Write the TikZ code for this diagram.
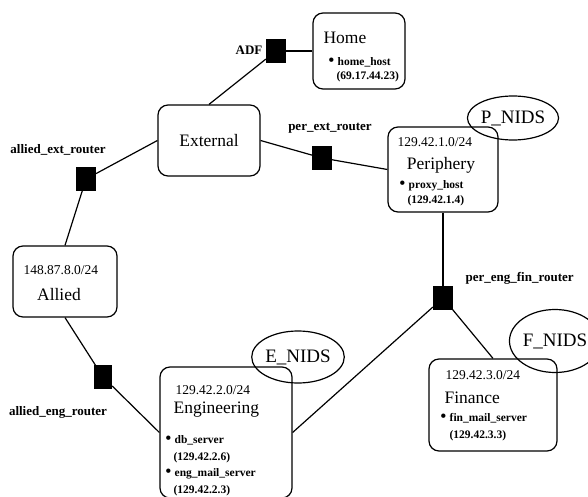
\documentclass[tikz,border=0pt]{standalone}
\usepackage{fontspec}
\setmainfont{Liberation Serif}
\usepackage{tikz}
\usetikzlibrary{positioning}
\usetikzlibrary{shapes.geometric}
\newcommand{\blt}{{\fontsize{16}{16}\selectfont\textbullet}\hspace{3.5pt}}

\begin{document}
\begin{tikzpicture}[x=1pt, y=-1pt, line width=1.2pt, net/.style ={rectangle, rounded corners=10pt, draw, inner sep=0pt}, rtr/.style={rectangle, draw, fill=black, minimum width=19pt, minimum height=22pt, inner sep=0pt}, nids/.style={ellipse, draw, inner sep=0pt, font=\fontsize{19}{22}\selectfont}, ttl/.style={inner sep=0pt, font=\fontsize{17.5}{20}\selectfont}, ip/.style={anchor=west, inner sep=0pt, font=\fontsize{13.5}{16}\selectfont}, itm/.style={anchor=west, inner sep=0pt, font=\bfseries\fontsize{11.5}{14}\selectfont}, lbl/.style={inner sep=0pt, font=\bfseries\fontsize{13}{15}\selectfont}]
	\useasboundingbox (0,0) rectangle (588,497);
	% subnets
	\node[net, minimum width=92pt, minimum height=76pt] (home) at (359,51) {};
	\node[net, minimum width=102pt, minimum height=71pt, ttl] (ext) at (209,140.5) {External};
	\node[net, minimum width=110pt, minimum height=85pt] (peri) at (443,169.5) {};
	\node[net, minimum width=104pt, minimum height=71pt] (allied) at (65,281.5) {};
	\node[net, minimum width=132pt, minimum height=131pt] (eng) at (226,432.5) {};
	\node[net, minimum width=128pt, minimum height=92pt] (fin) at (493,405) {};
	% routers
	\node[rtr] (adf) at (276,51) {};
	\node[rtr] (aer) at (86,179) {};
	\node[rtr] (per) at (322,158) {};
	\node[rtr, minimum width=17pt] (aegr) at (103,377) {};
	\node[rtr] (pefr) at (443,298) {};
	\node[lbl, anchor=east] (adflbl) at (263,50) {ADF};
	\node[lbl] (aerlbl) at (58,150) {allied\_ext\_router};
	\node[lbl] (perlbl) at (330,128) {per\_ext\_router};
	\node[lbl] (aegrlbl) at (58,412) {allied\_eng\_router};
	\node[lbl, anchor=west] (pefrlbl) at (465,278) {per\_eng\_fin\_router};
	% sensors
	\node[nids, minimum width=86pt, minimum height=44pt] (pnids) at (513,118) {P\_NIDS};
	\node[nids, minimum width=82pt, minimum height=52pt] (enids) at (298,357) {E\_NIDS};
	\node[nids, minimum width=68pt, minimum height=63pt] (fnids) at (555,341) {F\_NIDS};
	% contents
	\node[ttl, anchor=west] (hometl) at (323,38) {Home};
	\node[itm] (homeh) at (328,62) {\blt home\_host};
	\node[itm] (homeip) at (336,77) {(69.17.44.23)};
	\node[ip] (periip) at (397,142) {129.42.1.0/24};
	\node[ttl] (peritl) at (441,165) {Periphery};
	\node[itm] (perih) at (399,186) {\blt proxy\_host};
	\node[itm] (perihip) at (407,201) {(129.42.1.4)};
	\node[ip] (alliedip) at (23,270) {148.87.8.0/24};
	\node[ttl] (alliedtl) at (59,295) {Allied};
	\node[ip] (engip) at (175,390) {129.42.2.0/24};
	\node[ttl, anchor=west] (engtl) at (173,410) {Engineering};
	\node[itm] (engdb) at (165,440) {\blt db\_server};
	\node[itm] (engdbip) at (173,458) {(129.42.2.6)};
	\node[itm] (engml) at (165,474) {\blt eng\_mail\_server};
	\node[itm] (engmlip) at (173,491) {(129.42.2.3)};
	\node[ip] (finip) at (445,375) {129.42.3.0/24};
	\node[ttl, anchor=west] (fintl) at (444,398) {Finance};
	\node[itm] (finml) at (440,418) {\blt fin\_mail\_server};
	\node[itm] (finmlip) at (449,436) {(129.42.3.3)};
	% links
	\path (ext.north) edge (adf)
	(adf) edge (home.west)
	(ext.west) edge (aer)
	(aer) edge (allied.north)
	(allied.south) edge (aegr)
	(aegr) edge (eng.west)
	(ext.east) edge (per)
	(per) edge (peri.west)
	(peri.south) edge (pefr)
	(pefr) edge (eng.east)
	(pefr) edge (fin.north);
\end{tikzpicture}
\end{document}
